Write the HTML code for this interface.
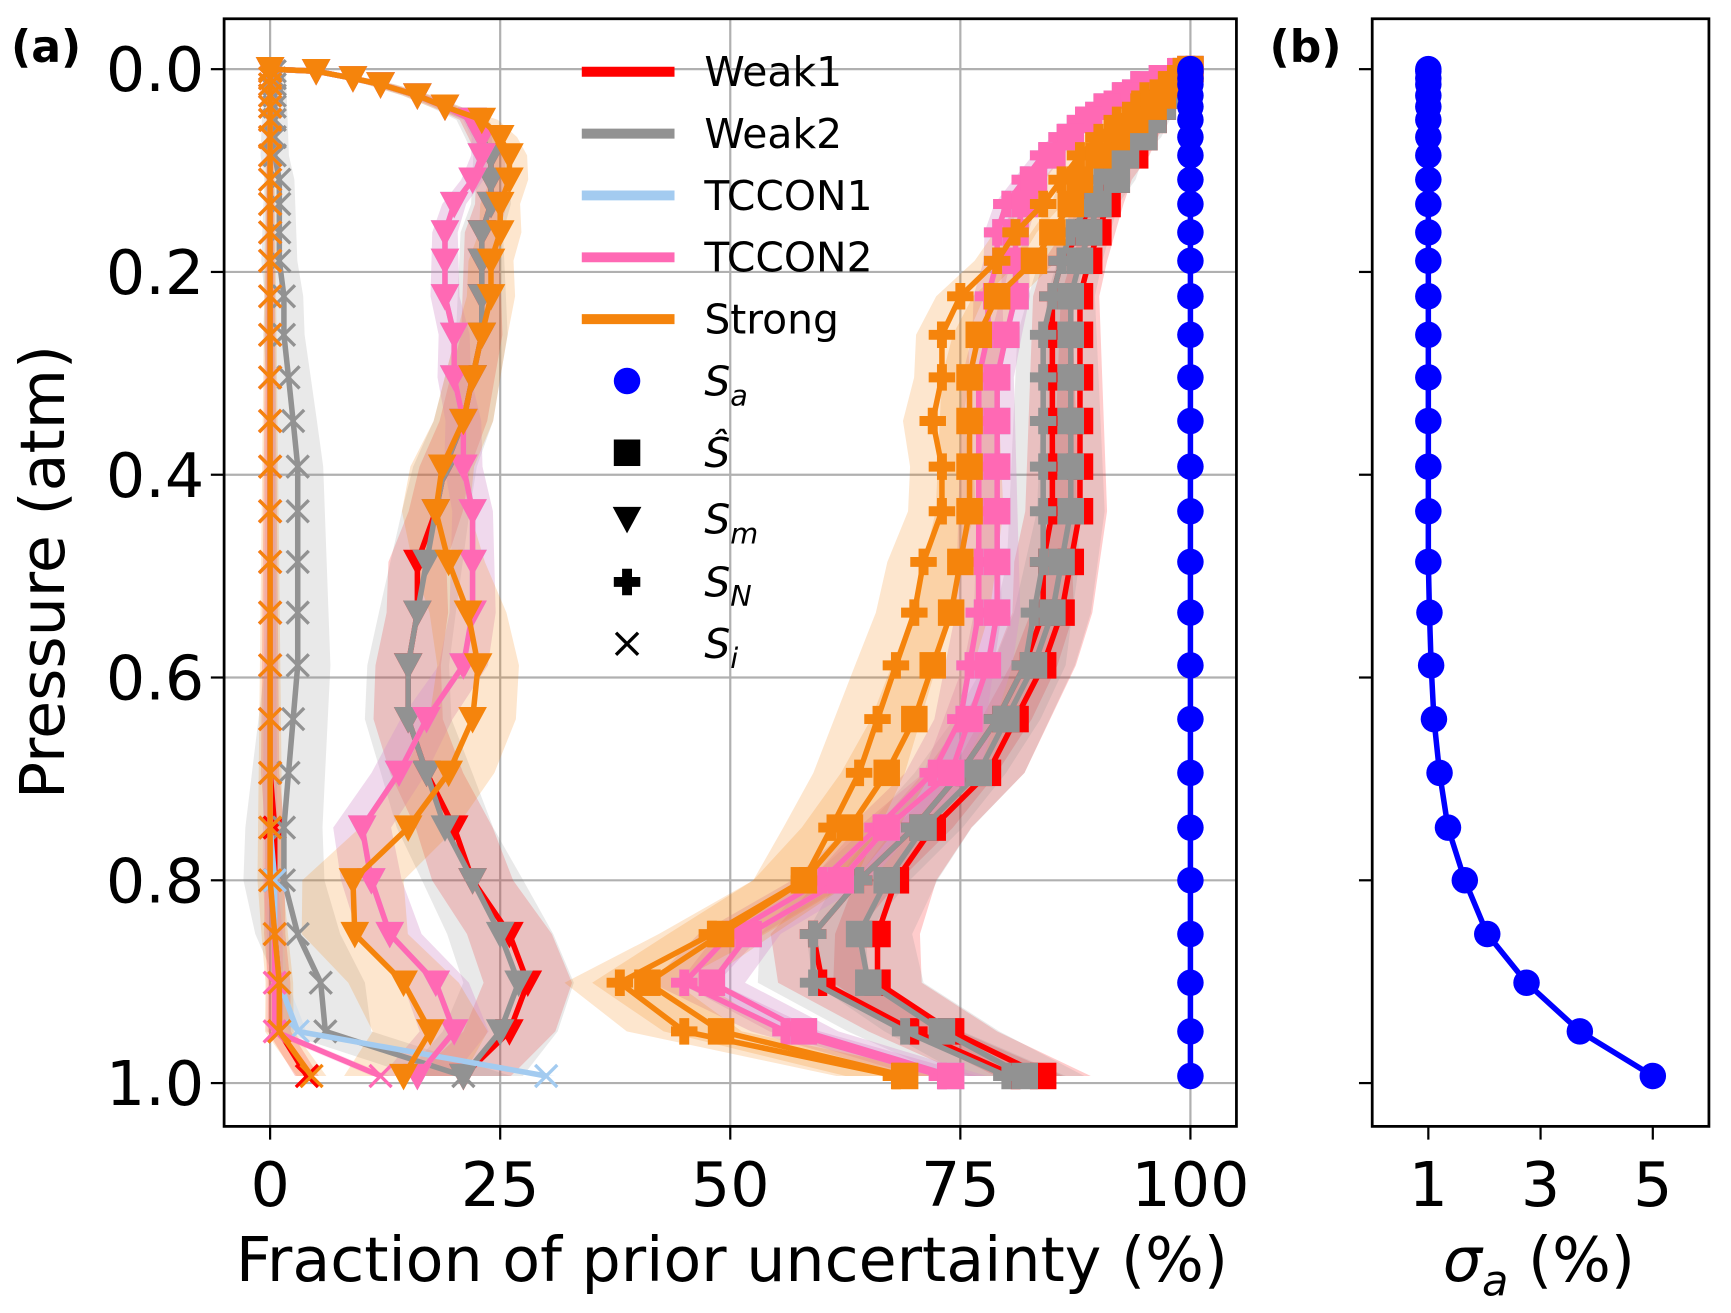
<!DOCTYPE html>
<html><head><meta charset="utf-8"><style>
html,body{margin:0;padding:0;background:#fff;}
svg{display:block;font-family:"DejaVu Sans","Liberation Sans",sans-serif;}
</style></head><body>
<svg id="fig" width="1731" height="1313" viewBox="0 0 1568 1189" preserveAspectRatio="none" xmlns="http://www.w3.org/2000/svg">
<g id="a-back"></g>
<g id="a-bands"></g>
<g id="a-series"></g>
<g id="a-frame"></g>
<g id="legend"></g>
<g id="b"></g>
<text x="10" y="56" font-size="40" font-weight="bold">(a)</text>
<text x="1150" y="56" font-size="40" font-weight="bold">(b)</text>
<text x="663" y="1160" font-size="56" text-anchor="middle">Fraction of prior uncertainty (%)</text>
<text x="1394" y="1160" font-size="56" text-anchor="middle"><tspan font-style="italic">σ</tspan><tspan font-style="italic" font-size="39" dy="13">a</tspan><tspan dy="-13"> (%)</tspan></text>
<text transform="translate(58,518) rotate(-90)" font-size="56" text-anchor="middle">Pressure (atm)</text>
</svg>
<script>
const levels=[0,0.002,0.009,0.015,0.026,0.037,0.050,0.067,0.085,0.109,0.133,0.161,0.189,0.224,0.262,0.304,0.347,0.392,0.436,0.486,0.536,0.588,0.641,0.694,0.748,0.800,0.853,0.901,0.949,0.993];
const xTicksA=[0,25,50,75,100];
const yTicks=[0,0.2,0.4,0.6,0.8,1.0];
const yTickLabels=["0.0","0.2","0.4","0.6","0.8","1.0"];
const xTicksB=[1,3,5];
const seriesNames=["Weak1","Weak2","TCCON1","TCCON2","Strong"];
const sigmaA=[1,1,1,1,1,1,1,1,1,1,1,1,1,1,1,1,1,1,1,1,1.02,1.05,1.1,1.2,1.35,1.65,2.05,2.75,3.7,5];
const priorPct=[100,100,100,100,100,100,100,100,100,100,100,100,100,100,100,100,100,100,100,100,100,100,100,100,100,100,100,100,100,100];
// S-hat
const shatWeak1=[100,99.5,99,98.5,98,97,96,95,94,92,91,90,89,88,88,88,88,88,88,87,86,84,81,78,72,68,66,66,74,84];
const shatWeak2=[100,99.5,99,98.5,98,97,96,95,93,92,90,89,88,87,87,87,87,87,87,86,85,83,80,77,71,67,64,65,73,82];
const shatTccon1=[100,99,97,95,93,91,89,87,85,83,82,81,81,81,80,79,79,79,79,79,79,78,76,74,67,62,52,48,58,74];
const shatTccon2=[100,99,97,95,93,91,89,87,85,83,82,81,81,81,80,79,79,79,79,79,79,78,76,74,67,62,52,48,58,74];
const shatStrong=[100,99.5,99,98,97,96,94,92,90,88,87,85,83,79,77,76,76,76,76,75,74,72,70,67,63,58,49,41,49,69];
// S_N
const snWeak1=[100,99,98.5,98,97,96,95,94,92,91,89,88,86,85,85,85,85,85,85,84,84,82,79,75,70,64,59,60,70,81];
const snWeak2=[100,99,98.5,98,97,96,95,94,92,90,89,87,86,85,84,84,84,84,84,84,83,82,79,75,70,64,59,59,69,80];
const snTccon1=[100,98,96,94,92,90,88,86,84,82,80,79,79,78,78,77,77,77,77,77,77,76,75,72,66,60,50,45,56,73];
const snTccon2=[100,98,96,94,92,90,88,86,84,82,80,79,79,78,78,77,77,77,77,77,77,76,75,72,66,60,50,45,56,73];
const snStrong=[100,99,98,97,95,94,92,90,88,86,84,81,79,75,73,73,72,73,73,71,70,68,66,64,61,58,48,38,45,68];
// S_m
const smWeak1=[0,5,9,12,16,19,22,23,24,24,24,23,23,23,23,22,21,19,18,16,16,15,15,17,20,22,26,28,26,21];
const smWeak2=[0,5,9,12,16,19,22,23,24,24,24,23,23,23,23,22,21,19,18,17,16,15,15,17,19,22,25,27,25,21];
const smTccon1=[0,5,9,12,16,19,22,23,23,22,20,19,19,19,20,20,21,21,22,22,22,21,17,14,10,11,13,18,20,16];
const smTccon2=[0,5,9,12,16,19,22,23,23,22,20,19,19,19,20,20,21,21,22,22,22,21,17,14,10,11,13,18,20,16];
const smStrong=[0,5,9,12,16,19,23,25,26,26,25,25,24,24,23,22,21,18.7,18,19.4,21.5,22.6,22,19.4,15,9,9.2,14.5,17.4,14.5];
// S_i
const siWeak1=[0,0,0,0,0,0,0,0,0,0,0,0,0,0,0,0,0,0,0,0,0,0,0,0,0.5,0.5,0.5,1,1,4];
const siWeak2=[0,0.5,0.5,0.5,0.5,0.5,0.5,0.5,0.5,1,1,1,1,1.5,1.5,2,2.5,3,3,3,3,3,2.5,2,1.5,1.5,3,5.5,6,21];
const siTccon1=[0,0,0,0,0,0,0,0,0,0,0,0,0,0,0,0,0,0,0,0,0,0,0,0,0,0.5,0.5,1,3,30];
const siTccon2=[0,0,0,0,0,0,0,0,0,0,0,0,0,0,0,0,0,0,0,0,0,0,0,0,0,0,0.5,0.5,0.5,12];
const siStrong=[0,0,0,0,0,0,0,0,0,0,0,0,0,0,0,0,0,0,0,0,0,0,0,0,0,0,0.5,1,1,4.5];
// band half widths (%)
const bandWeak1=4;
const bandWeak2=5;
const bandTccon1=3;
const bandTccon2=3;
const bandStrong=5;

const NS="http://www.w3.org/2000/svg";
const AL=203,AR=1120,AT=17,AB=1020,BL=1243,BR=1548;
function xA(v){return AL+(v+5)/110*(AR-AL);}
function yP(p){return AT+(p+0.0497)/(1.0427+0.0497)*(AB-AT);}
function xB(v){return BL+v/6*(BR-BL);}
function el(parent,tag,attrs){const e=document.createElementNS(NS,tag);for(const k in attrs)e.setAttribute(k,attrs[k]);parent.appendChild(e);return e;}
const colors={Weak1:"#ff0000",Weak2:"#929292",TCCON1:"#a3cbf0",TCCON2:"#ff69b4",Strong:"#f5840c"};
const gBack=document.getElementById('a-back'),gBands=document.getElementById('a-bands'),gSer=document.getElementById('a-series'),gFrame=document.getElementById('a-frame'),gLeg=document.getElementById('legend'),gB=document.getElementById('b');

xTicksA.forEach(v=>{const l=el(gBack,'line',{x1:xA(v),x2:xA(v),y1:AT,y2:AB,stroke:"#b0b0b0","stroke-width":2});

});
yTicks.forEach((v,i)=>{const l=el(gBack,'line',{x1:AL,x2:AR,y1:yP(v),y2:yP(v),stroke:"#b0b0b0","stroke-width":2});

});

const groups=[
 {name:"Weak1",shat:shatWeak1,sn:snWeak1,sm:smWeak1,si:siWeak1,band:bandWeak1},
 {name:"Weak2",shat:shatWeak2,sn:snWeak2,sm:smWeak2,si:siWeak2,band:bandWeak2},
 {name:"TCCON1",shat:shatTccon1,sn:snTccon1,sm:smTccon1,si:siTccon1,band:bandTccon1},
 {name:"TCCON2",shat:shatTccon2,sn:snTccon2,sm:smTccon2,si:siTccon2,band:bandTccon2},
 {name:"Strong",shat:shatStrong,sn:snStrong,sm:smStrong,si:siStrong,band:bandStrong}];

function bandPath(vals,w){let a=[],b=[];vals.forEach((v,i)=>{const ww=w*(0.3+levels[i]);a.push(xA(v-ww)+","+yP(levels[i]));b.unshift(xA(v+ww)+","+yP(levels[i]));});return "M"+a.concat(b).join("L")+"Z";}
groups.forEach(g=>{
 ['shat','sn','sm','si'].forEach(k=>{
  const w = k==='si' ? (g.name==='Weak2'?g.band*0.8:g.band*0.25) : g.band;
  const p=el(gBands,'path',{d:bandPath(g[k],w),fill:colors[g.name],"fill-opacity":0.2,stroke:"none"});
  
  
 });
});

function marker(parent,type,x,y,c){
 let m;
 if(type==='shat') m=el(parent,'rect',{x:x-12,y:y-12,width:24,height:24,fill:c});
 else if(type==='sm') m=el(parent,'path',{d:`M${x-13},${y-11}L${x+13},${y-11}L${x},${y+13}Z`,fill:c});
 else if(type==='sn') m=el(parent,'path',{d:`M${x-4.5},${y-12}h9v7.5h7.5v9h-7.5v7.5h-9v-7.5h-7.5v-9h7.5Z`,fill:c});
 else m=el(parent,'path',{d:`M${x-10},${y-10}L${x+10},${y+10}M${x-10},${y+10}L${x+10},${y-10}`,stroke:c,"stroke-width":3,fill:"none"});
 return m;
}
groups.forEach(g=>{
 const c=colors[g.name];
 const gg=el(gSer,'g',{});
 
 
 ['si','sm','sn','shat'].forEach(k=>{
  const pts=g[k].map((v,i)=>xA(v)+","+yP(levels[i])).join(" ");
  const pl=el(gg,'polyline',{points:pts,fill:"none",stroke:c,"stroke-width":5,"stroke-linejoin":"round"});
  
  
  g[k].forEach((v,i)=>{const m=marker(gg,k,xA(v),yP(levels[i]),c);
   
   });
 });
});
{
 const pl=el(gSer,'polyline',{points:priorPct.map((v,i)=>xA(v)+","+yP(levels[i])).join(" "),fill:"none",stroke:"#0000ff","stroke-width":5});
 
 
 priorPct.forEach((v,i)=>{const c=el(gSer,'circle',{cx:xA(v),cy:yP(levels[i]),r:12,fill:"#0000ff"});
  
  });
}
{
 const r=el(gFrame,'rect',{x:AL,y:AT,width:AR-AL,height:AB-AT,fill:"none",stroke:"#000","stroke-width":2.5});
 
 
 xTicksA.forEach(v=>{el(gFrame,'line',{x1:xA(v),x2:xA(v),y1:AB,y2:AB+12,stroke:"#000","stroke-width":2});
  const t=el(gFrame,'text',{x:xA(v),y:1092,"font-size":56,"text-anchor":"middle"});t.textContent=v;
  
  });
 yTicks.forEach((v,i)=>{el(gFrame,'line',{x1:AL-12,x2:AL,y1:yP(v),y2:yP(v),stroke:"#000","stroke-width":2});
  const t=el(gFrame,'text',{x:AL-18,y:yP(v)+20,"font-size":56,"text-anchor":"end"});t.textContent=yTickLabels[i];
  
  });
}
{
 seriesNames.forEach((n,i)=>{const y=65+i*56;
  const l=el(gLeg,'line',{x1:527,x2:611,y1:y,y2:y,stroke:colors[n],"stroke-width":9});
  
  
  const t=el(gLeg,'text',{x:638,y:y+13,"font-size":37});t.textContent=n;
  
  });
 const mk=[['prior',345,'S','a'],['shat',410,'Ŝ',''],['sm',470,'S','m'],['sn',527,'S','N'],['si',583,'S','i']];
 mk.forEach(([k,y,s,sub])=>{
  let m;
  if(k==='prior') m=el(gLeg,'circle',{cx:568,cy:y,r:12,fill:"#0000ff"});
  else m=marker(gLeg,k,568,y,"#000");
  
  
  const t=el(gLeg,'text',{x:638,y:y+13,"font-size":37,"font-style":"italic"});
  t.textContent=s;
  if(sub){const ts=el(t,'tspan',{"font-size":26,dy:9});ts.textContent=sub;}
  
  
 });
}
{
 const r=el(gB,'rect',{x:BL,y:AT,width:BR-BL,height:AB-AT,fill:"none",stroke:"#000","stroke-width":2.5});
 
 
 yTicks.forEach(v=>{el(gB,'line',{x1:BL-12,x2:BL,y1:yP(v),y2:yP(v),stroke:"#000","stroke-width":2});});
 xTicksB.forEach(v=>{el(gB,'line',{x1:xB(v),x2:xB(v),y1:AB,y2:AB+12,stroke:"#000","stroke-width":2});
  const t=el(gB,'text',{x:xB(v),y:1092,"font-size":56,"text-anchor":"middle"});t.textContent=v;
  
  });
 const pl=el(gB,'polyline',{points:sigmaA.map((v,i)=>xB(v)+","+yP(levels[i])).join(" "),fill:"none",stroke:"#0000ff","stroke-width":5});
 
 
 sigmaA.forEach((v,i)=>{const c=el(gB,'circle',{cx:xB(v),cy:yP(levels[i]),r:12,fill:"#0000ff"});
  
  });
}
</script>
</body></html>
